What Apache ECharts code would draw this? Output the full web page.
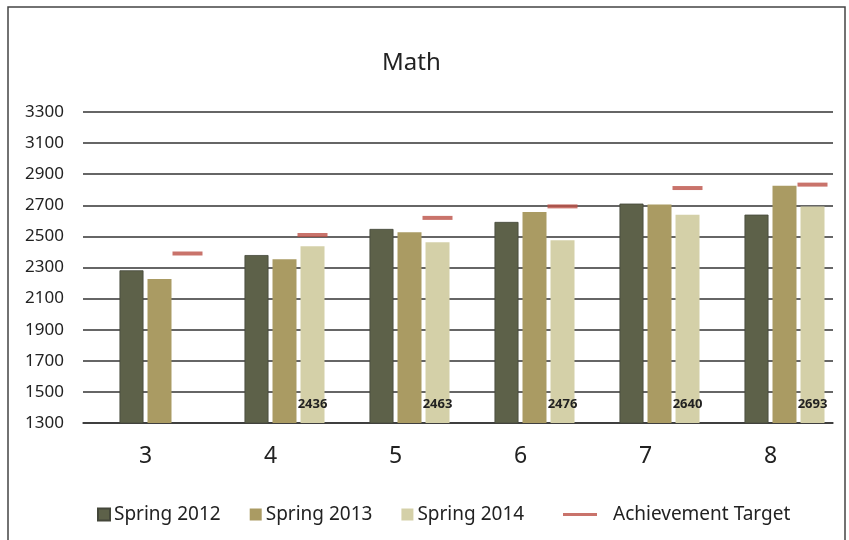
<!DOCTYPE html>
<html>
<head>
<meta charset="utf-8">
<script src="https://cdn.jsdelivr.net/npm/echarts@6/dist/echarts.min.js"></script>
<style>
  html, body { margin: 0; padding: 0; background: #fff; }
  #main { width: 849px; height: 540px; }
</style>
</head>
<body>
<div id="main"></div>
<script>
  // 年级
  var grades = ['3', '4', '5', '6', '7', '8'];
  // 各学期成绩
  var spring2012 = [2282, 2380, 2548, 2593, 2711, 2640];
  var spring2013 = [2226, 2353, 2526, 2657, 2705, 2826];
  var spring2014 = ['-', 2436, 2463, 2476, 2640, 2693];
  // 目标线
  var target = [2390, 2509, 2619, 2693, 2811, 2833];
  // 空占位列（原图最左侧有一列空位）
  var blank = ['-', '-', '-', '-', '-', '-'];
  var yTicks = { min: 1300, max: 3300, interval: 200 };

  var myChart = echarts.init(document.getElementById('main'));
  var font = 'Noto Sans';

  var option = {
    animation: false,
    title: {
      text: 'Math',
      left: 377,
      top: 46,
      textStyle: { fontFamily: font, fontSize: 24, fontWeight: 'normal', color: '#222' }
    },
    legend: [
      {
        data: ['Spring 2012', 'Spring 2013', 'Spring 2014'],
        left: 92,
        top: 500,
        itemWidth: 12,
        itemHeight: 12,
        itemGap: 29,
        icon: 'rect',
        textStyle: { fontFamily: font, fontSize: 19, color: '#222', padding: [0, 0, 0, -1] }
      },
      {
        data: [{ name: 'Achievement Target', icon: 'rect' }],
        left: 558,
        top: 500,
        itemWidth: 34,
        itemHeight: 3,
        textStyle: { fontFamily: font, fontSize: 19, color: '#222', padding: [0, 0, 0, 11] }
      }
    ],
    graphic: [{
      type: 'rect',
      shape: { x: 8, y: 7, width: 837, height: 560 },
      style: { fill: null, stroke: '#444', lineWidth: 1.5 },
      silent: true
    }],
    grid: { left: 83, right: 16, top: 112, bottom: 117 },
    xAxis: {
      type: 'category',
      data: grades,
      axisLine: { lineStyle: { color: '#333', width: 1.5 } },
      axisTick: { show: false },
      axisLabel: { fontFamily: font, fontSize: 23, color: '#222', margin: 22 }
    },
    yAxis: {
      type: 'value',
      min: yTicks.min,
      max: yTicks.max,
      interval: yTicks.interval,
      axisLine: { show: false },
      axisTick: { show: false },
      splitLine: { lineStyle: { color: '#333', width: 1.5 } },
      axisLabel: {
        fontFamily: font, fontSize: 17, color: '#222', margin: 19,
        formatter: function (v) { return String(v); }
      }
    },
    series: [
      { name: 'blank', type: 'bar', data: blank, barWidth: 24, barGap: '16.7%' },
      {
        name: 'Spring 2012', type: 'bar', data: spring2012, barWidth: 24, barGap: '16.7%',
        itemStyle: { color: '#5d6149', borderColor: '#44473a', borderWidth: 0.8 }
      },
      {
        name: 'Spring 2013', type: 'bar', data: spring2013, barWidth: 24, barGap: '16.7%',
        itemStyle: { color: '#aa9b63' }
      },
      {
        name: 'Spring 2014', type: 'bar', data: spring2014, barWidth: 24, barGap: '16.7%',
        itemStyle: { color: '#d4d0a8' },
        label: {
          show: true,
          position: 'insideBottom',
          distance: 12,
          fontFamily: font,
          fontSize: 13,
          fontWeight: 'bold',
          color: '#222'
        }
      },
      {
        name: 'Achievement Target', type: 'scatter', data: target,
        symbol: 'rect', symbolSize: [30, 4], symbolOffset: [42, 0],
        itemStyle: { color: '#bb5046' },
        z: 5
      }
    ]
  };
  myChart.setOption(option);
</script>
</body>
</html>
